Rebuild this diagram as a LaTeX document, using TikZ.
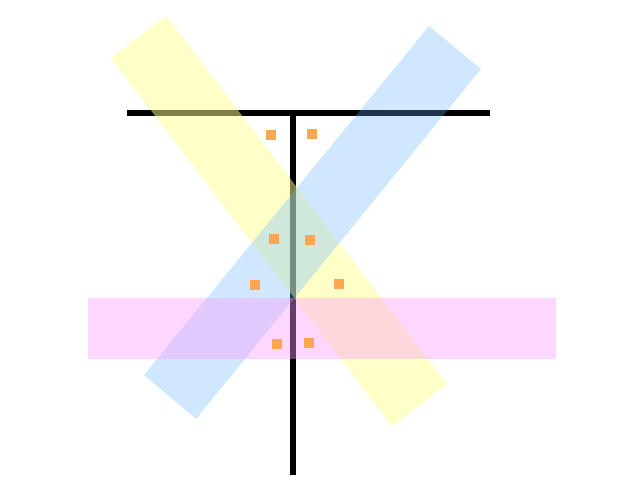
\documentclass[tikz,border=0pt]{standalone}
\definecolor{bandyellow}{RGB}{255,255,145}
\definecolor{bandblue}{RGB}{100,180,255}
\definecolor{bandpink}{RGB}{250,155,250}
\definecolor{dotorange}{RGB}{255,166,80}
\tikzset{
  tbar/.style={line width=6pt, black, line cap=butt},
  yband/.style={fill=bandyellow, fill opacity=0.5, draw=none},
  bband/.style={fill=bandblue, fill opacity=0.3, draw=none},
  pband/.style={fill=bandpink, fill opacity=0.4, draw=none},
  dot/.style={fill=dotorange, draw=none, minimum size=10pt, inner sep=0pt, outer sep=0pt, rectangle}
}
\begin{document}
\begin{tikzpicture}[x=1pt,y=-1pt]
\useasboundingbox (0,0) rectangle (640,480);
% T shape
\coordinate (hl) at (127,113);
\coordinate (hr) at (490,113);
\coordinate (vt) at (293,110);
\coordinate (vb) at (293,475);
\draw[tbar] (hl) -- (hr);
\draw[tbar] (vt) -- (vb);
% bands
\fill[yband] (111,58) -- (166,16) -- (447,384) -- (392,426) -- cycle;
\fill[bband] (429,26) -- (481,69) -- (196,419) -- (144,375) -- cycle;
\fill[pband] (88,298) rectangle (556,359);
% orange squares
\node[dot] (s1) at (271,135) {};
\node[dot] (s2) at (312,134) {};
\node[dot] (s3) at (274,239) {};
\node[dot] (s4) at (310,240) {};
\node[dot] (s5) at (255,285) {};
\node[dot] (s6) at (339,284) {};
\node[dot] (s7) at (277,344) {};
\node[dot] (s8) at (309,343) {};
\end{tikzpicture}
\end{document}
